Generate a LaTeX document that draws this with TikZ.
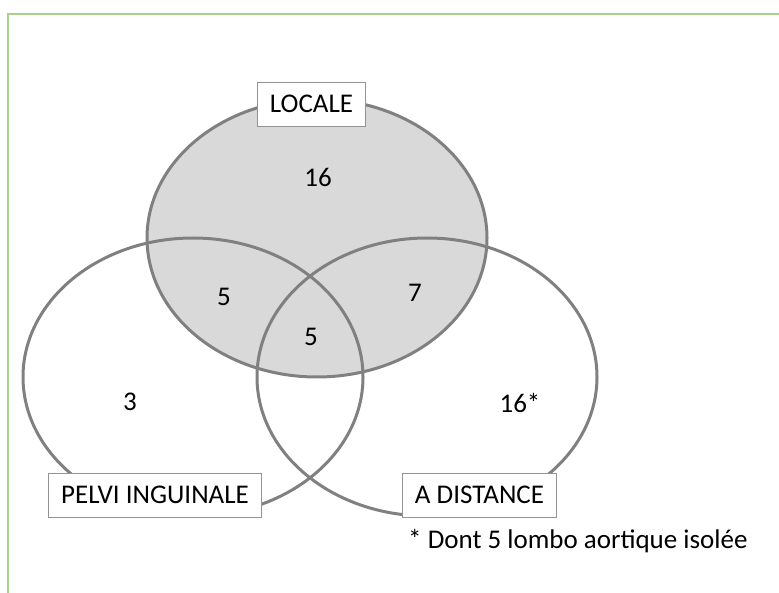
\documentclass[tikz,border=0pt]{standalone}
\usepackage{fontspec}
\setmainfont{Carlito}
\usetikzlibrary{shapes.geometric}
\definecolor{framegreen}{HTML}{A9D18E}
\definecolor{setgray}{HTML}{808080}
\definecolor{setfill}{HTML}{D9D9D9}

\begin{document}
\begin{tikzpicture}[x=1pt,y=-1pt]
    \tikzstyle{every node}=[font=\fontsize{27}{32}\selectfont]
    \tikzstyle{set}=[ellipse, draw=setgray, line width=3pt, minimum width=340pt, minimum height=278pt, inner sep=0pt]
    \tikzstyle{set label}=[draw=setgray!85, line width=0.8pt, fill=white, minimum height=44pt, inner xsep=12.5pt, inner ysep=0pt]
    \tikzstyle{count}=[inner sep=0pt]

    \useasboundingbox (0,0) rectangle (779,593);

    % Frame (only top and left sides visible)
    \coordinate (frame top) at (779,14);
    \coordinate (frame corner) at (7.7,14);
    \coordinate (frame bottom) at (7.7,593);
    \draw[framegreen, line width=1.8pt] (frame top) -- (frame corner) -- (frame bottom);

    % The three sets
    \node[set, fill=setfill] (locale) at (317,238) {};
    \node[set] (pelvi) at (193,377) {};
    \node[set] (distance) at (427,377) {};

    % Counts in each region
    \node[count] (n-locale) at (318,177) {16};
    \node[count] (n-locale-pelvi) at (224,297) {5};
    \node[count] (n-locale-distance) at (415,293) {7};
    \node[count] (n-all) at (311,337) {5};
    \node[count] (n-pelvi) at (130,402) {3};
    \node[count] (n-distance) at (520,403) {16*};

    % Labels of the sets
    \node[set label] (l-locale) at (311.5,104) {LOCALE};
    \node[set label] (l-pelvi) at (155,495) {PELVI INGUINALE};
    \node[set label] (l-distance) at (479.5,495) {A DISTANCE};

    % Footnote
    \node[anchor=base west, inner sep=0pt] (note) at (408,548) {* Dont 5 lombo aortique isolée};
\end{tikzpicture}
\end{document}
